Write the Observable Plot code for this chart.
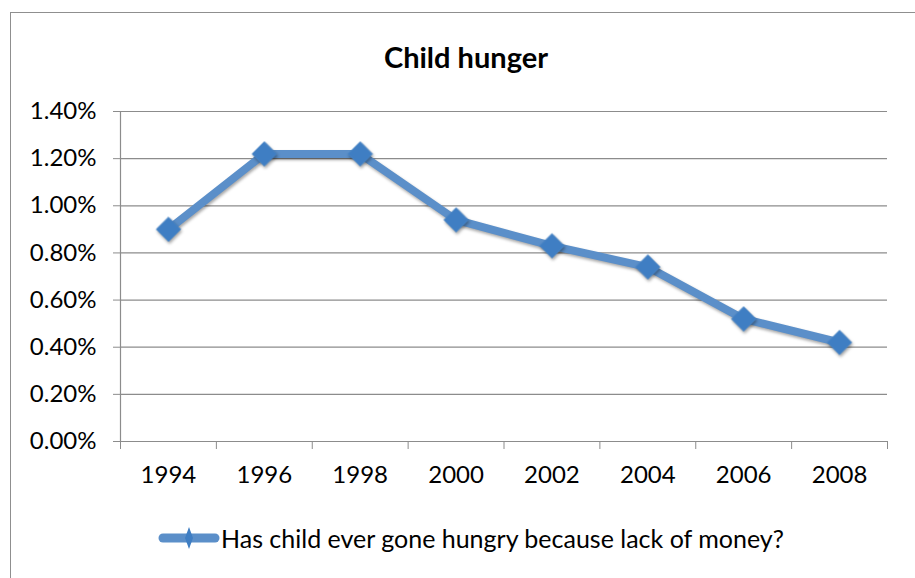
<!DOCTYPE html>
<html>
<head>
<meta charset="utf-8">
<script src="https://cdn.jsdelivr.net/npm/d3@7"></script>
<script src="https://cdn.jsdelivr.net/npm/@observablehq/plot@0.6"></script>
<style>
  html, body { margin: 0; padding: 0; background: #fff; }
  #wrap { position: relative; width: 915px; height: 578px; overflow: hidden; font-family: Lato, "Open Sans", sans-serif; color: #000; }
  #frame { position: absolute; left: 10px; top: 12px; width: 930px; height: 600px; border: 1.5px solid #8f8f8f; box-sizing: border-box; }
  #title { position: absolute; left: 0; top: 40px; width: 932px; height: 34px; line-height: 34px; text-align: center; font-weight: bold; font-size: 29px; }
  #chart { position: absolute; left: 0; top: 80px; }
  #legend { position: absolute; left: 158px; top: 524px; height: 28px; display: flex; align-items: center; font-size: 25px; }
  #legend svg { display: block; margin-right: 1px; }
  .hunger g[aria-label="line"], .hunger g[aria-label="dot"] { filter: drop-shadow(1px 2px 1.5px rgba(0,0,0,0.35)); }
</style>
</head>
<body>
<div id="wrap">
  <div id="frame"></div>
  <div id="title"></div>
  <div id="chart"></div>
  <div id="legend"></div>
</div>
<script>
const titleText = "Child hunger";
const seriesName = "Has child ever gone hungry because lack of money?";
const years = [1994, 1996, 1998, 2000, 2002, 2004, 2006, 2008];
const values = [0.0090, 0.0122, 0.0122, 0.0094, 0.0083, 0.0074, 0.0052, 0.0042];
const yTicks = [0, 0.002, 0.004, 0.006, 0.008, 0.010, 0.012, 0.014];
const xBoundaries = [1993, 1995, 1997, 1999, 2001, 2003, 2005, 2007, 2009];

const lineColor = "#5b8fc9";
const markerColor = "#3f7ec3";
const gridColor = "#8c8c8c";

const data = years.map((year, i) => ({year, value: values[i]}));

document.getElementById("title").textContent = titleText;

const chart = Plot.plot({
  className: "hunger",
  width: 915,
  height: 420,
  marginLeft: 120,
  marginRight: 28,
  marginTop: 31,
  marginBottom: 59,
  style: {fontFamily: "Lato, 'Open Sans', sans-serif", fontSize: "24px", color: "#000", background: "transparent"},
  x: {type: "linear", domain: [xBoundaries[0], xBoundaries[xBoundaries.length - 1]], label: null},
  y: {domain: [0, 0.014], label: null},
  marks: [
    Plot.ruleY(yTicks, {stroke: gridColor, strokeWidth: 1.2, strokeOpacity: 1}),
    Plot.ruleX([xBoundaries[0]], {stroke: gridColor, strokeWidth: 1.2, strokeOpacity: 1}),
    Plot.axisY({ticks: yTicks, tickFormat: d3.format(".2%"), tickSize: 7, tickPadding: 17, stroke: gridColor, strokeOpacity: 1, fontSize: 24, fill: "#000", label: null}),
    Plot.axisX({ticks: xBoundaries, tickFormat: () => "", tickSize: 8, stroke: gridColor, strokeOpacity: 1, label: null}),
    Plot.axisX({ticks: years, tickFormat: d => String(d), tickSize: 0, tickPadding: 24, fontSize: 24, fill: "#000", label: null}),
    Plot.line(data, {x: "year", y: "value", stroke: lineColor, strokeWidth: 8, strokeLinejoin: "round"}),
    Plot.dot(data, {x: "year", y: "value", symbol: "diamond2", r: 11, fill: markerColor, stroke: "#4a86c6", strokeWidth: 1})
  ]
});
document.getElementById("chart").appendChild(chart);

const legend = document.getElementById("legend");
const ns = "http://www.w3.org/2000/svg";
const ls = document.createElementNS(ns, "svg");
ls.setAttribute("width", 62);
ls.setAttribute("height", 28);
ls.innerHTML = `<line x1="5" y1="14" x2="57" y2="14" stroke="${lineColor}" stroke-width="9" stroke-linecap="round"/>` +
  `<path d="M31,3 L35,14 L31,25 L27,14 Z" fill="${markerColor}"/>`;
legend.appendChild(ls);
const lt = document.createElement("span");
lt.textContent = seriesName;
legend.appendChild(lt);
</script>
</body>
</html>
